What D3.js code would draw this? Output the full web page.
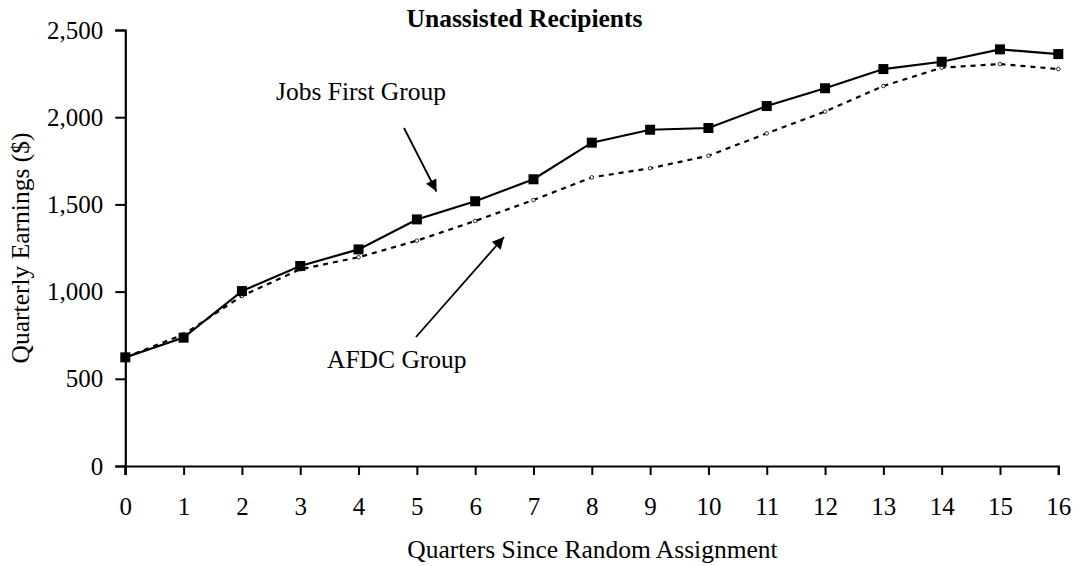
<!DOCTYPE html>
<html>
<head>
<meta charset="utf-8">
<script src="https://cdn.jsdelivr.net/npm/d3@7"></script>
<style>
  html,body{margin:0;padding:0;background:#fff;}
  svg text{font-family:"Liberation Serif","Times New Roman",serif;fill:#000;}
</style>
</head>
<body>
<div id="chart"></div>
<script>
// quarters since random assignment
const quarters = [0,1,2,3,4,5,6,7,8,9,10,11,12,13,14,15,16];
// quarterly earnings ($)
const jobsFirst = [623,736,1003,1147,1242,1414,1518,1644,1854,1928,1938,2064,2166,2276,2318,2389,2362];
const afdc      = [623,755,975,1128,1197,1292,1405,1525,1655,1707,1779,1907,2032,2179,2284,2305,2276];
const yTicks = [0,500,1000,1500,2000,2500];

const W=1078, H=566;
const svg=d3.select("#chart").append("svg").attr("width",W).attr("height",H);

const xSc=d3.scaleLinear().domain([0,16]).range([125.3,1058.3]);
const ySc=d3.scaleLinear().domain([0,2500]).range([466,30]);

// axes
const yAx=svg.append("g").attr("transform","translate(125.3,0)")
  .call(d3.axisLeft(ySc).tickValues(yTicks).tickSize(10).tickPadding(12).tickFormat(d3.format(",")));
const xAx=svg.append("g").attr("transform","translate(0,466)")
  .call(d3.axisBottom(xSc).tickValues(quarters).tickSize(9).tickPadding(22).tickFormat(d3.format("d")));
[yAx,xAx].forEach(a=>{
  a.select(".domain").attr("stroke","#000").attr("stroke-width",2.2);
  a.selectAll(".tick line").attr("stroke","#000").attr("stroke-width",2);
  a.selectAll(".tick text").attr("font-size",25).attr("font-family",null).attr("fill","#000");
});
// y axis extends to the bottom of the x ticks at the origin
svg.append("line").attr("x1",xSc(0)).attr("x2",xSc(0)).attr("y1",ySc(0)).attr("y2",ySc(0)+9)
  .attr("stroke","#000").attr("stroke-width",2);

const line=d3.line().x((_,i)=>xSc(quarters[i])).y(v=>ySc(v));

// AFDC group: dashed
svg.append("path").datum(afdc).attr("d",line).attr("fill","none")
  .attr("stroke","#000").attr("stroke-width",2.2).attr("stroke-dasharray","5,5");
svg.selectAll(".afdot").data(afdc).join("circle").attr("class","afdot")
  .attr("cx",(_,i)=>xSc(quarters[i])).attr("cy",d=>ySc(d)).attr("r",1.8)
  .attr("fill","#fff").attr("stroke","#000").attr("stroke-width",0.8);

// Jobs First group: solid with squares
svg.append("path").datum(jobsFirst).attr("d",line).attr("fill","none")
  .attr("stroke","#000").attr("stroke-width",2.2);
svg.selectAll(".jfsq").data(jobsFirst).join("rect").attr("class","jfsq")
  .attr("x",(_,i)=>xSc(quarters[i])-5).attr("y",d=>ySc(d)-5)
  .attr("width",10).attr("height",10).attr("fill","#000");

// title and axis labels
svg.append("text").attr("x",524.5).attr("y",26.5).attr("text-anchor","middle")
  .attr("font-size",25.5).attr("font-weight","bold").text("Unassisted Recipients");
svg.append("text").attr("x",592.5).attr("y",558).attr("text-anchor","middle")
  .attr("font-size",25.5).text("Quarters Since Random Assignment");
svg.append("text").attr("transform","rotate(-90)").attr("x",-248).attr("y",29)
  .attr("text-anchor","middle").attr("font-size",25.5).text("Quarterly Earnings ($)");

// annotations with arrows
const defs=svg.append("defs");
defs.append("marker").attr("id","arr").attr("viewBox","0 0 10 10").attr("refX",10).attr("refY",5)
  .attr("markerWidth",7).attr("markerHeight",6.5).attr("markerUnits","strokeWidth").attr("orient","auto")
  .append("path").attr("d","M0,0L10,5L0,10z").attr("fill","#000");

svg.append("text").attr("x",276).attr("y",100).attr("font-size",25.5).text("Jobs First Group");
svg.append("line").attr("x1",404).attr("y1",128).attr("x2",436.5).attr("y2",191.5)
  .attr("stroke","#000").attr("stroke-width",1.8).attr("marker-end","url(#arr)");

svg.append("text").attr("x",327).attr("y",368).attr("font-size",25.5).text("AFDC Group");
svg.append("line").attr("x1",416).attr("y1",337).attr("x2",504).attr("y2",237)
  .attr("stroke","#000").attr("stroke-width",1.8).attr("marker-end","url(#arr)");
</script>
</body>
</html>
